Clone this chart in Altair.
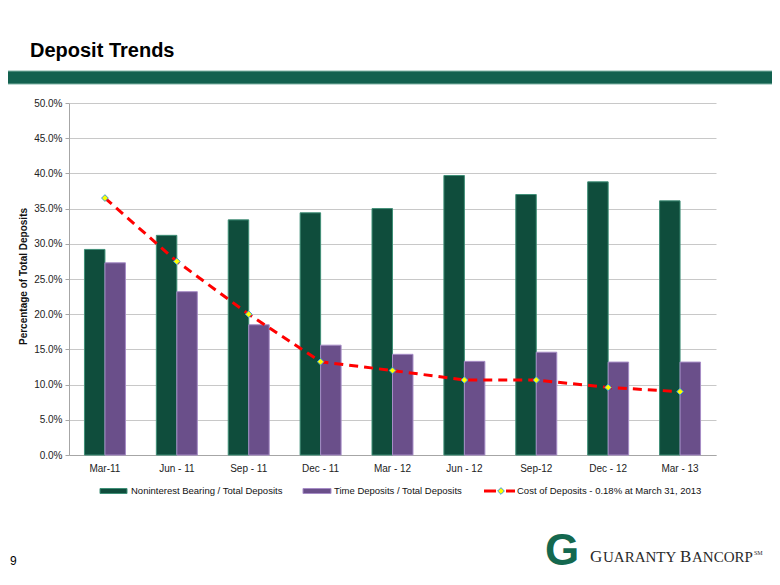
import altair as alt
import pandas as pd

# ---------------- data ----------------
quarters = ["Mar-11", "Jun - 11", "Sep - 11", "Dec - 11", "Mar - 12",
            "Jun - 12", "Sep-12", "Dec - 12", "Mar - 13"]
noninterest_pct = [29.2, 31.2, 33.4, 34.4, 35.0, 39.7, 37.0, 38.8, 36.1]
time_dep_pct = [27.3, 23.2, 18.5, 15.6, 14.3, 13.3, 14.6, 13.2, 13.2]
cost_pct = [0.73, 0.55, 0.40, 0.265, 0.24, 0.213, 0.213, 0.192, 0.18]
bar_series = ["Noninterest Bearing / Total Deposits", "Time Deposits / Total Deposits"]
line_series = "Cost of Deposits - 0.18% at March 31, 2013"
left_ticks = [0.0, 0.05, 0.10, 0.15, 0.20, 0.25, 0.30, 0.35, 0.40, 0.45, 0.50]
right_ticks = [0.0, 0.002, 0.004, 0.006, 0.008, 0.010]
page_title = "Deposit Trends"
page_number = "9"
logo_mark = "G"
logo_parts = ["G", "UARANTY", "B", "ANCORP", "SM"]

FONT = "Liberation Sans, Arial, sans-serif"
SERIF = "Liberation Serif, Times New Roman, serif"
GREEN = "#0f4d3c"
PURPLE = "#6a4f8a"
W, H = 647, 352

bars_df = pd.DataFrame({
    "quarter": quarters * 2,
    "series": [bar_series[0]] * len(quarters) + [bar_series[1]] * len(quarters),
    "value": [v / 100 for v in noninterest_pct + time_dep_pct],
})
line_df = pd.DataFrame({"quarter": quarters, "cost": [c / 100 for c in cost_pct]})
one = pd.DataFrame({"k": [0]})

x_enc = alt.X(
    "quarter:N", sort=quarters,
    scale=alt.Scale(paddingInner=0.43, paddingOuter=0.215),
    axis=alt.Axis(title=None, labelAngle=0, ticks=False, labelPadding=8,
                  labelFontSize=10, labelColor="#222", labelFont=FONT,
                  domainColor="#a6a6a6", grid=False),
)

bars = alt.Chart(bars_df).mark_bar(strokeWidth=1).encode(
    x=x_enc,
    xOffset=alt.XOffset("series:N", sort=bar_series),
    y=alt.Y("value:Q",
            scale=alt.Scale(domain=[0, 0.5], nice=False),
            axis=alt.Axis(orient="left", values=left_ticks, format=".1%",
                          title="Percentage of Total Deposits",
                          titleFont=FONT, titleFontSize=10, titleFontWeight="bold",
                          titleColor="#111", titleAngle=270, titleX=-46, titleY=173,
                          titleAlign="center", titleBaseline="middle",
                          labelFont=FONT, labelFontSize=10, labelColor="#222",
                          labelPadding=3, tickSize=4, tickColor="#a6a6a6",
                          domainColor="#a6a6a6", gridColor="#c8c8c8", grid=True)),
    fill=alt.Fill("series:N", scale=alt.Scale(domain=bar_series, range=[GREEN, PURPLE]), legend=None),
    stroke=alt.Stroke("series:N", scale=alt.Scale(domain=bar_series, range=["#3f8f77", "#a68cc6"]), legend=None),
)

y_cost = alt.Y("cost:Q", scale=alt.Scale(domain=[0, 0.01], nice=False),
               axis=alt.Axis(orient="right", values=right_ticks, format=".2%",
                             title="Cost of Deposits",
                             titleFont=FONT, titleFontSize=9.5, titleFontWeight="bold",
                             titleColor="#111", titleAngle=90, titleX=45, titleY=173,
                             titleAlign="center", titleBaseline="middle",
                             labelFont=FONT, labelFontSize=10, labelColor="#222",
                             labelPadding=4, tickSize=4, tickColor="#a6a6a6",
                             domainColor="#a6a6a6", grid=False))

line = alt.Chart(line_df).mark_line(color="#ff0000", strokeWidth=3, strokeDash=[9, 6]).encode(
    x=alt.X("quarter:N", sort=quarters), y=y_cost)
points = alt.Chart(line_df).mark_point(shape="diamond", filled=True, fill="#ffff00",
                                        stroke="#3a9ad9", strokeWidth=1, size=45, opacity=1).encode(
    x=alt.X("quarter:N", sort=quarters), y=alt.Y("cost:Q", axis=None))
cost_layer = alt.layer(line, points)

# ---------------- decoration (page furniture) ----------------
band = alt.Chart(one).mark_rect(color="#12614f", stroke="#7fb3a5", strokeWidth=1).encode(
    x=alt.value(-70), x2=alt.value(712), y=alt.value(-32), y2=alt.value(-19))
title_txt = alt.Chart(pd.DataFrame({"t": [page_title]})).mark_text(
    font=FONT, fontSize=20, fontWeight="bold", align="left", baseline="alphabetic", color="#000").encode(
    x=alt.value(-39), y=alt.value(-46), text="t:N")
num_txt = alt.Chart(pd.DataFrame({"t": [page_number]})).mark_text(
    font=FONT, fontSize=12, align="left", baseline="middle", color="#000").encode(
    x=alt.value(-59), y=alt.value(458), text="t:N")
logo_g = alt.Chart(pd.DataFrame({"t": [logo_mark]})).mark_text(
    font=FONT, fontSize=44, fontWeight="bold", align="center", baseline="alphabetic", color="#14684f").encode(
    x=alt.value(493), y=alt.value(462), text="t:N")


def logo_piece(i, xpos, ypos, size):
    return alt.Chart(pd.DataFrame({"t": [logo_parts[i]]})).mark_text(
        font=SERIF, fontSize=size, align="left", baseline="alphabetic", color="#2a2a2a").encode(
        x=alt.value(xpos), y=alt.value(ypos), text="t:N")


logo_txt = [
    logo_piece(0, 521, 459, 17),
    logo_piece(1, 534, 459, 15),
    logo_piece(2, 611, 459, 17),
    logo_piece(3, 623, 459, 15),
    logo_piece(4, 685, 452, 6),
]

# ---------------- legend ----------------
LY = 388
sw1 = alt.Chart(one).mark_rect(color=GREEN, stroke="#3f8f77").encode(
    x=alt.value(31), x2=alt.value(58), y=alt.value(LY - 2.5), y2=alt.value(LY + 2.5))
sw2 = alt.Chart(one).mark_rect(color=PURPLE, stroke="#a68cc6").encode(
    x=alt.value(234), x2=alt.value(262), y=alt.value(LY - 2.5), y2=alt.value(LY + 2.5))
red1 = alt.Chart(one).mark_rule(color="#ff0000", strokeWidth=3).encode(
    x=alt.value(415), x2=alt.value(427), y=alt.value(LY))
red2 = alt.Chart(one).mark_rule(color="#ff0000", strokeWidth=3).encode(
    x=alt.value(437), x2=alt.value(446), y=alt.value(LY))
dia = alt.Chart(one).mark_point(shape="diamond", filled=True, fill="#ffff00", stroke="#3a9ad9",
                                 strokeWidth=1, size=45, opacity=1).encode(
    x=alt.value(432), y=alt.value(LY))
leg_df = pd.DataFrame({"label": bar_series + [line_series]})


def leg_text(i, xpos):
    return alt.Chart(leg_df.iloc[[i]]).mark_text(
        font=FONT, fontSize=9.5, align="left", baseline="middle", color="#111").encode(
        x=alt.value(xpos), y=alt.value(LY), text="label:N")


legend = [sw1, sw2, red1, red2, dia, leg_text(0, 62), leg_text(1, 265), leg_text(2, 448)]

chart = alt.layer(
    band, title_txt, num_txt, logo_g, *logo_txt,
    bars, cost_layer, *legend,
).resolve_scale(y="independent").properties(
    width=W, height=H,
    autosize=alt.AutoSizeParams(type="none"),
    padding={"left": 61, "top": 95, "right": 56, "bottom": 118},
    background="white",
).configure_view(strokeWidth=0)

chart.save("out.html", embed_options={"renderer": "svg", "actions": False})
